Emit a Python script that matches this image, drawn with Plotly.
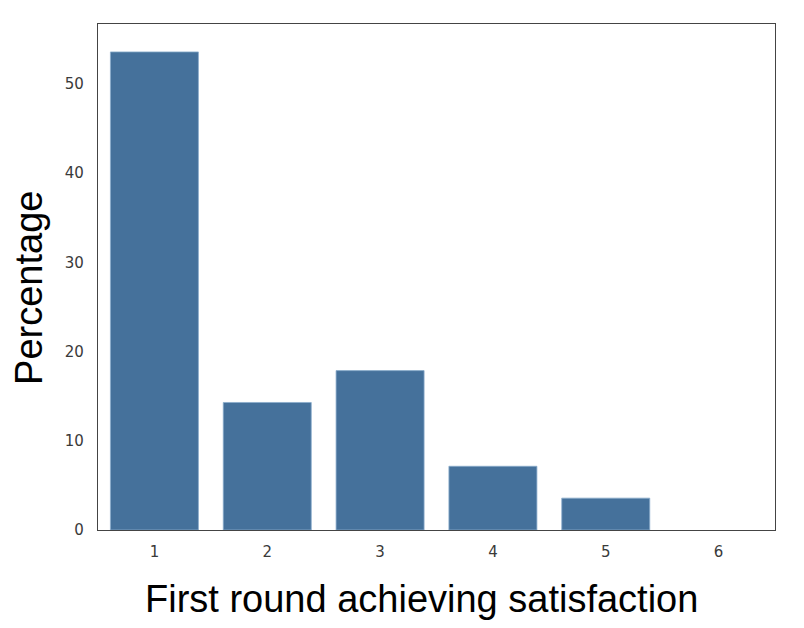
import plotly.graph_objects as go

rounds = ["1", "2", "3", "4", "5", "6"]
percentage = [53.57, 14.29, 17.86, 7.14, 3.57, 0.0]
y_ticks = [0, 10, 20, 30, 40, 50]

# no edge on empty bars, otherwise a thin line shows at zero
edge_widths = [0.8 if v > 0 else 0 for v in percentage]

fig = go.Figure()

fig.add_trace(
	go.Bar(
		x=rounds,
		y=percentage,
		marker=dict(color="#45719b", line=dict(color="#8aaccc", width=edge_widths)),
		width=0.78,
		showlegend=False
	)
)

# axis titles as annotations so they sit where the original put them
title_font = dict(family="Liberation Sans", size=38, color="black")
fig.add_annotation(
	text="First round achieving satisfaction",
	xref="paper", yref="paper", x=0.478, y=-0.136,
	xanchor="center", yanchor="middle", showarrow=False, font=title_font
)
fig.add_annotation(
	text="Percentage",
	xref="paper", yref="paper", x=-0.103, y=0.479,
	xanchor="center", yanchor="middle", textangle=-90, showarrow=False, font=title_font
)

# page body has an 8px margin, so the figure is 8px smaller than the window
fig.update_layout(
	width=796,
	height=620,
	plot_bgcolor="white",
	paper_bgcolor="white",
	margin=dict(l=90, r=29, t=16, b=98, autoexpand=False),
	font=dict(family="DejaVu Sans", color="#3a3a3a", size=15)
)

fig.update_xaxes(
	type="category",
	range=[-0.5, 5.5],
	automargin=False,
	showline=True, mirror=True, linecolor="#444444", linewidth=1.3,
	showgrid=False, ticks="", ticklabelstandoff=8
)
fig.update_yaxes(
	range=[0, 56.7],
	tickvals=y_ticks,
	automargin=False,
	showline=True, mirror=True, linecolor="#444444", linewidth=1.3,
	showgrid=False, zeroline=False, ticks="", ticklabelstandoff=10
)

fig.write_html("out.html")
